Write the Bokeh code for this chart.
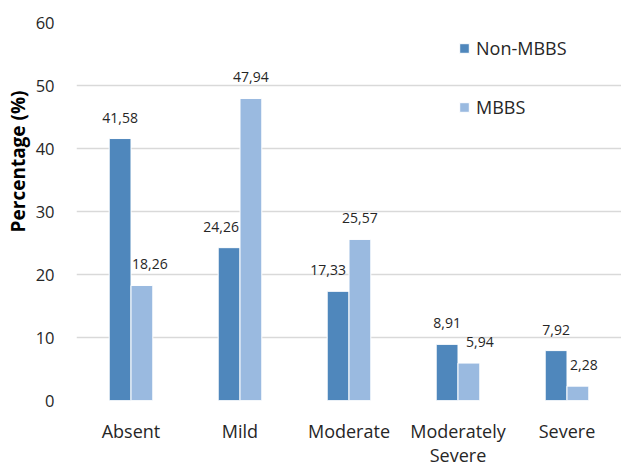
import math
from bokeh.plotting import figure
from bokeh.models import ColumnDataSource, FactorRange, Legend, LegendItem, FixedTicker, Title
from bokeh.transform import dodge
from bokeh.core.properties import value
from bokeh.embed import file_html
from bokeh.resources import INLINE

categories = ["Absent", "Mild", "Moderate", "Moderately\nSevere", "Severe"]
non_mbbs = [41.58, 24.26, 17.33, 8.91, 7.92]
mbbs = [18.26, 47.94, 25.57, 5.94, 2.28]
y_ticks = [0, 10, 20, 30, 40, 50, 60]

# label nudges (screen px), styling only
non_dx = [0, -8, -10, 0, 0]
mbbs_dx = [8, 0, 0, 11, 6]

FONT = "Open Sans"
TXT = "#262626"
C1 = "#4F87BC"
C2 = "#9ABAE0"
FW, FH = 545, 378

def fmt(v):
    return f"{v:.2f}".replace(".", ",")

src = ColumnDataSource(dict(
    cat=categories, non=non_mbbs, mbbs=mbbs,
    non_lbl=[fmt(v) for v in non_mbbs], mbbs_lbl=[fmt(v) for v in mbbs],
    non_dx=non_dx, mbbs_dx=mbbs_dx,
))

p = figure(frame_width=FW, frame_height=FH, x_range=FactorRange(*categories), y_range=(0, 60),
           output_backend="svg", toolbar_location=None,
           min_border_left=75, min_border_right=0, min_border_top=22, min_border_bottom=10)
p.outline_line_color = None

r1 = p.vbar(x=dodge("cat", -0.1, range=p.x_range), top="non", width=0.2, source=src,
            fill_color=C1, line_color="white", line_width=1)
r2 = p.vbar(x=dodge("cat", 0.1, range=p.x_range), top="mbbs", width=0.2, source=src,
            fill_color=C2, line_color="white", line_width=1)

p.text(x=dodge("cat", -0.1, range=p.x_range), y="non", text="non_lbl", source=src,
       x_offset="non_dx", y_offset=-21, text_align="center", text_baseline="middle",
       text_font=value(FONT), text_font_size="14px", text_color=TXT)
p.text(x=dodge("cat", 0.1, range=p.x_range), y="mbbs", text="mbbs_lbl", source=src,
       x_offset="mbbs_dx", y_offset=-21, text_align="center", text_baseline="middle",
       text_font=value(FONT), text_font_size="14px", text_color=TXT)

p.xgrid.grid_line_color = None
p.ygrid.grid_line_color = "#D9D9D9"
p.ygrid.grid_line_width = 1.5
p.yaxis.ticker = FixedTicker(ticks=y_ticks)

for ax in (p.xaxis[0], p.yaxis[0]):
    ax.axis_line_color = None
    ax.major_tick_line_color = None
    ax.minor_tick_line_color = None
    ax.major_label_text_font = FONT
    ax.major_label_text_color = TXT

p.yaxis.major_label_text_font_size = "16.5px"
p.xaxis.major_label_text_font_size = "18px"
p.xaxis.major_label_text_line_height = 1.0
p.yaxis.major_label_standoff = 16
p.xaxis.major_label_standoff = 12

ytitle = Title(text="Percentage (%)", align="right", offset=68, standoff=4,
               text_font=FONT, text_font_size="19px", text_font_style="bold",
               text_color="#000000")
p.add_layout(ytitle, "left")

legend = Legend(items=[LegendItem(label="Non-MBBS", renderers=[r1]),
                       LegendItem(label="MBBS", renderers=[r2])],
                location=(382, FH - 97), orientation="vertical",
                glyph_width=12, glyph_height=12, label_height=20, label_standoff=6,
                spacing=35, padding=0, margin=0,
                border_line_color=None, background_fill_alpha=0,
                label_text_font=FONT, label_text_font_size="18px", label_text_color=TXT)
p.add_layout(legend)

open("out.html", "w").write(file_html(p, INLINE))
